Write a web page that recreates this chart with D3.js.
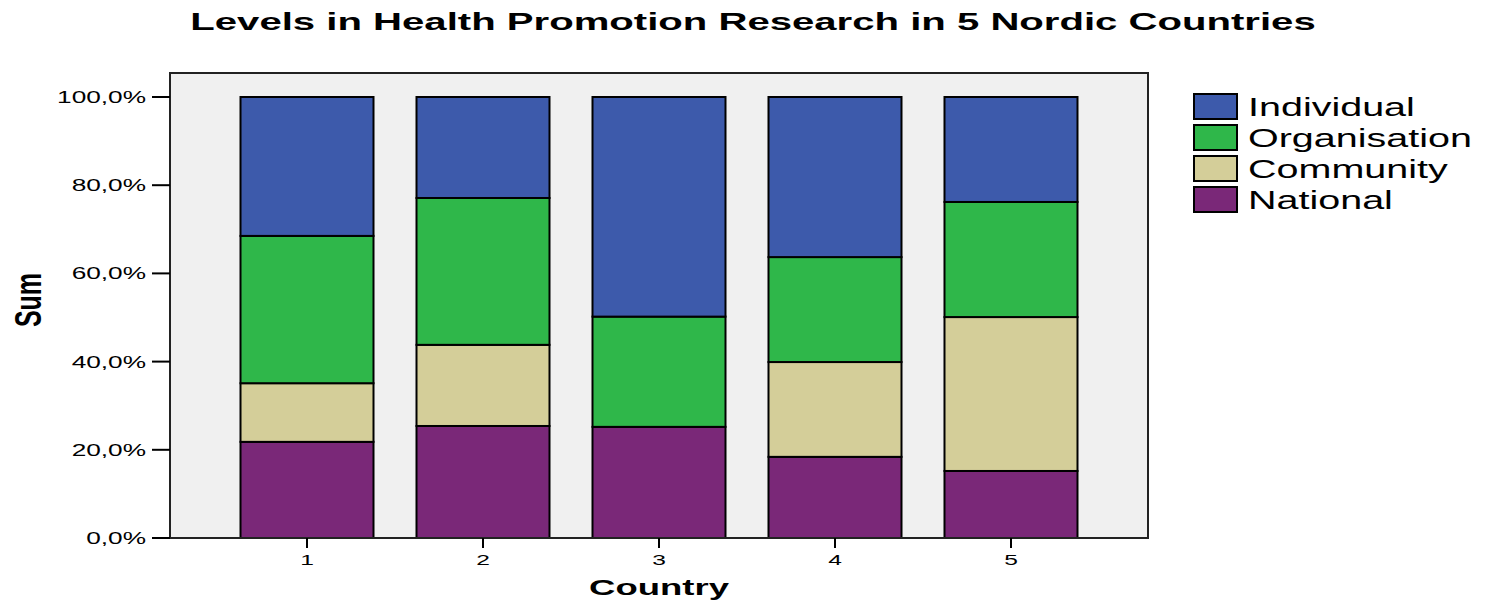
<!DOCTYPE html>
<html>
<head>
<meta charset="utf-8">
<script src="https://cdn.jsdelivr.net/npm/d3@7"></script>
<style>
  body { margin: 0; background: #fff; }
  svg text { font-family: "Liberation Sans", Arial, sans-serif; fill: #000; }
</style>
</head>
<body>
<svg id="chart" width="1485" height="600"></svg>
<script>
// ---- data ----
const countries = ["1", "2", "3", "4", "5"];
const seriesNames = ["National", "Community", "Organisation", "Individual"];
const national     = [21.8, 25.4, 25.2, 18.4, 15.2];
const community    = [13.3, 18.4, 0.0, 21.5, 34.9];
const organisation = [33.4, 33.3, 25.0, 23.8, 26.1];
const individual   = [31.5, 22.9, 49.8, 36.3, 23.8];
const yTicks = [0, 20, 40, 60, 80, 100];
const legendOrder = ["Individual", "Organisation", "Community", "National"];
const colors = { National: "#7a2878", Community: "#d4ce99", Organisation: "#2fb74a", Individual: "#3d5aab" };

const table = countries.map((c, i) => ({
  country: c, National: national[i], Community: community[i],
  Organisation: organisation[i], Individual: individual[i]
}));

const svg = d3.select("#chart");
const plot = { x0: 170, x1: 1148, y0: 73, y1: 538 };

const x = d3.scaleBand().domain(countries).range([plot.x0, plot.x1])
  .paddingInner(0.2443).paddingOuter(0.4006);
const y = d3.scaleLinear().domain([0, 100]).range([538, 97]);

// helper: stretched text
function stretchedText(g, str, px, py, opts) {
  const t = g.append("text").text(str)
    .attr("font-size", opts.size)
    .attr("font-weight", opts.bold ? "bold" : "normal")
    .attr("text-anchor", opts.anchor || "start");
  const len = t.node().getComputedTextLength();
  const sx = opts.width ? opts.width / len : (opts.sx || 1);
  const rot = opts.rotate ? ` rotate(${opts.rotate})` : "";
  t.attr("transform", `translate(${px},${py}) scale(${sx},1)${rot}`);
  return sx;
}

// plot frame background
svg.append("rect").attr("x", plot.x0).attr("y", plot.y0)
  .attr("width", plot.x1 - plot.x0).attr("height", plot.y1 - plot.y0)
  .attr("fill", "#f0f0f0");

// stacked bars
const stack = d3.stack().keys(seriesNames)(table);
svg.append("g").selectAll("g").data(stack).join("g")
  .attr("fill", d => colors[d.key])
  .selectAll("rect").data(d => d).join("rect")
  .attr("x", d => x(d.data.country))
  .attr("width", x.bandwidth())
  .attr("y", d => y(d[1]))
  .attr("height", d => y(d[0]) - y(d[1]))
  .attr("stroke", "#000").attr("stroke-width", 2);

// frame border
svg.append("rect").attr("x", plot.x0).attr("y", plot.y0)
  .attr("width", plot.x1 - plot.x0).attr("height", plot.y1 - plot.y0)
  .attr("fill", "none").attr("stroke", "#222").attr("stroke-width", 2);

// y axis ticks
const fmt = v => v.toFixed(1).replace(".", ",") + "%";
const yAxisG = svg.append("g");
yAxisG.selectAll("line").data(yTicks).join("line")
  .attr("x1", 152).attr("x2", plot.x0)
  .attr("y1", d => y(d)).attr("y2", d => y(d))
  .attr("stroke", "#000").attr("stroke-width", 2);
const ySx = (function () {
  const t = svg.append("text").attr("font-size", 16).text("100,0%");
  const l = t.node().getComputedTextLength(); t.remove();
  return 89 / l;
})();
yTicks.forEach(v => stretchedText(yAxisG, fmt(v), 146, y(v) + 6, { size: 16, anchor: "end", sx: ySx }));

// x axis ticks
const xAxisG = svg.append("g");
xAxisG.selectAll("line").data(countries).join("line")
  .attr("x1", d => x(d) + x.bandwidth() / 2).attr("x2", d => x(d) + x.bandwidth() / 2)
  .attr("y1", plot.y1).attr("y2", 548)
  .attr("stroke", "#000").attr("stroke-width", 2);
countries.forEach(c => stretchedText(xAxisG, c, x(c) + x.bandwidth() / 2, 565, { size: 15, anchor: "middle", sx: ySx }));

// axis titles
stretchedText(svg, "Country", 659, 595, { size: 22, bold: true, anchor: "middle", width: 140 });
const sumG = svg.append("g");
sumG.append("text").text("Sum").attr("font-size", 25).attr("font-weight", "bold")
  .attr("text-anchor", "middle")
  .attr("transform", "translate(41,300) scale(1.5,1) rotate(-90)");

// title
stretchedText(svg, "Levels in Health Promotion Research in 5 Nordic Countries", 753, 30,
  { size: 23, bold: true, anchor: "middle", width: 1126 });

// legend
const legG = svg.append("g");
const legSx = (function () {
  const t = svg.append("text").attr("font-size", 25).text("Organisation");
  const l = t.node().getComputedTextLength(); t.remove();
  return 224 / l;
})();
legendOrder.forEach((k, i) => {
  legG.append("rect").attr("x", 1194).attr("y", 94 + i * 31)
    .attr("width", 43).attr("height", 25)
    .attr("fill", colors[k]).attr("stroke", "#000").attr("stroke-width", 2);
  stretchedText(legG, k, 1248, 116 + i * 31, { size: 25, sx: legSx });
});
</script>
</body>
</html>
